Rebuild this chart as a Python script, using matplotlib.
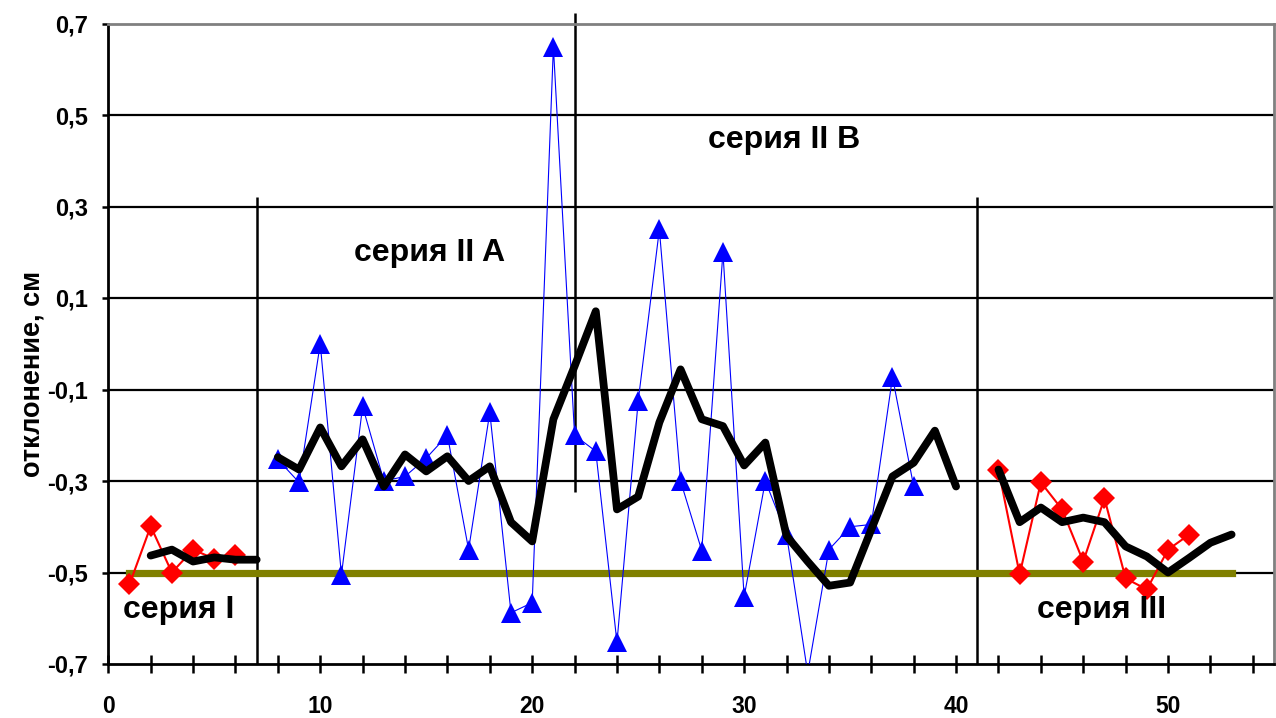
import numpy as np
import matplotlib
matplotlib.use("Agg")
import matplotlib.pyplot as plt
from matplotlib.ticker import MultipleLocator, FuncFormatter

plt.rcParams['font.family'] = ['Liberation Sans', 'DejaVu Sans']

# --- data ---
s1_x = [1, 2, 3, 4, 5, 6]
s1_y = [-0.526, -0.399, -0.50, -0.45, -0.47, -0.462]
s1_avg_x = [2, 3, 4, 5, 6, 7]
s1_avg_y = [-0.463, -0.45, -0.476, -0.467, -0.472, -0.472]

s2_x = list(range(8, 39))
s2_y = [-0.253, -0.303, 0.0, -0.505, -0.137, -0.30, -0.29, -0.25, -0.20, -0.45,
        -0.15, -0.588, -0.566, 0.649, -0.20, -0.235, -0.653, -0.126, 0.25, -0.30,
        -0.452, 0.20, -0.553, -0.30, -0.417, -0.72, -0.45, -0.40, -0.395, -0.073,
        -0.312]
s2_avg_x = list(range(8, 41))
s2_avg_y = [-0.248, -0.275, -0.183, -0.268, -0.209, -0.312, -0.242, -0.279, -0.246,
            -0.30, -0.268, -0.39, -0.432, -0.165, -0.049, 0.071, -0.362, -0.334,
            -0.172, -0.056, -0.165, -0.18, -0.266, -0.216, -0.42, -0.476, -0.529,
            -0.522, -0.406, -0.29, -0.26, -0.19, -0.312]

s3_x = list(range(42, 52))
s3_y = [-0.275, -0.504, -0.303, -0.362, -0.476, -0.338, -0.513, -0.537, -0.45, -0.417]
s3_avg_x = list(range(42, 54))
s3_avg_y = [-0.275, -0.39, -0.358, -0.39, -0.38, -0.39, -0.443, -0.465, -0.50,
            -0.468, -0.435, -0.417]

base_x = [1, 53]
base_y = [-0.5, -0.5]

div_x = [7, 22, 41]
div_y0 = [-0.7, -0.324, -0.7]
div_y1 = [0.321, 0.723, 0.321]

labels = ["серия I", "серия II A", "серия II B", "серия III"]
label_x = [3.33, 15.17, 31.9, 46.85]
label_y = [-0.582, 0.198, 0.445, -0.582]

# --- figure ---
fig = plt.figure(figsize=(12.76, 7.18), dpi=100)
ax = fig.add_axes([108.3 / 1276, 1 - 664 / 718, (1274 - 108.3) / 1276, (664 - 23.5) / 718])
ax.set_xlim(0, 55)
ax.set_ylim(-0.7, 0.7)

# grid lines
for gy in [-0.5, -0.3, -0.1, 0.1, 0.3, 0.5]:
    ax.axhline(gy, color='black', lw=1.6, zorder=1)

# divider lines
for dx, a, b in zip(div_x, div_y0, div_y1):
    ax.plot([dx, dx], [a, b], color='black', lw=1.8, clip_on=False, zorder=2,
            solid_capstyle='butt')

# baseline
ax.plot(base_x, base_y, color='#808000', lw=5.2, solid_capstyle='projecting', zorder=3)

# series II (blue)
ax.plot(s2_x, s2_y, color='#0000ff', lw=0.8, zorder=4)
s2x = np.array(s2_x); s2y = np.array(s2_y)
m = (s2y >= -0.7) & (s2y <= 0.7)
ax.plot(s2x[m], s2y[m], ls='none', marker='^', ms=14.5, color='#0000ff',
        markeredgewidth=0, zorder=5)

# series I and III (red)
for xs, ys in [(s1_x, s1_y), (s3_x, s3_y)]:
    ax.plot(xs, ys, color='#ff0000', lw=1.5, marker='D', ms=11.5,
            markeredgewidth=0, zorder=5)

# averages (black)
for xs, ys in [(s1_avg_x, s1_avg_y), (s2_avg_x, s2_avg_y), (s3_avg_x, s3_avg_y)]:
    ax.plot(xs, ys, color='black', lw=5.6, solid_joinstyle='round',
            solid_capstyle='round', zorder=6)

# labels
for t, lx, ly in zip(labels, label_x, label_y):
    ax.text(lx, ly, t, ha='center', va='center', fontsize=23, fontweight='bold',
            zorder=7)

# spines
for s in ['left', 'bottom']:
    ax.spines[s].set_color('black')
    ax.spines[s].set_linewidth(2)
for s in ['top', 'right']:
    ax.spines[s].set_color('#808080')
    ax.spines[s].set_linewidth(2)

ax.xaxis.set_major_locator(MultipleLocator(10))
ax.xaxis.set_minor_locator(MultipleLocator(2))
ax.tick_params(axis='x', which='both', direction='inout', length=13, width=1.8,
               labelsize=16.5, pad=16)
ax.set_yticks([-0.7, -0.5, -0.3, -0.1, 0.1, 0.3, 0.5, 0.7])
ax.yaxis.set_major_formatter(FuncFormatter(lambda v, p: f"{v:.1f}".replace('.', ',')))
ax.tick_params(axis='y', which='both', direction='out', length=4.5, width=1.8,
               labelsize=17, pad=10)
for lab in ax.get_xticklabels() + ax.get_yticklabels():
    lab.set_fontweight('bold')

fig.text(33 / 1276, 1 - 374 / 718, "отклонение, см", rotation=90, ha='center',
         va='center', fontsize=19.5, fontweight='bold')

fig.savefig("out.png", dpi=100)
